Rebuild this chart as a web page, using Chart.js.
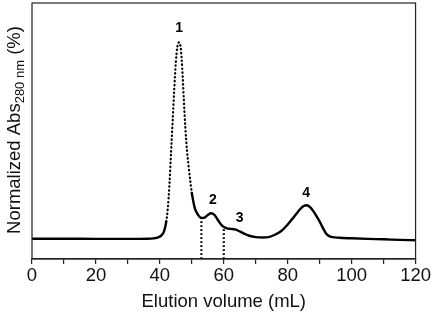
<!DOCTYPE html>
<html>
<head>
<meta charset="utf-8">
<script src="https://cdn.jsdelivr.net/npm/chart.js@4"></script>
<style>
  body { margin: 0; background: #fff; }
  canvas { display: block; }
</style>
</head>
<body>
<canvas id="chart" width="432" height="316"></canvas>
<script>
// elution profile
const volume = [0, 10, 20, 30, 36, 38, 39.5, 40.5, 41.3, 42, 42.5, 43, 43.5, 44, 44.5, 45, 45.5, 46,
  46.5, 47, 47.5, 48, 48.5, 49, 49.5, 50, 50.5, 51, 52, 53, 54, 55, 56, 57, 58, 59, 60, 61, 62,
  63.5, 65, 66.5, 68, 70, 72, 74, 76, 78, 80, 82, 84, 85, 86, 87, 88, 89, 90, 91, 92, 93, 94,
  96, 100, 105, 110, 115, 120]
const absorbance = [0.3, 0.3, 0.2, 0.2, 0.3, 0.5, 1.0, 2.0, 4.0, 9, 16, 28, 44, 60, 76, 90, 98, 100,
  97.5, 87, 71, 56, 45, 37, 30, 23.5, 19, 15.5, 12.3, 10.8, 11.0, 12.3, 13.2, 12.5, 10.2, 7.8, 6.3, 5.6, 5.3,
  5.0, 4.0, 2.8, 1.8, 1.1, 0.9, 1.1, 2.3, 4.2, 7.5, 11.5, 15.5, 16.9, 17.3, 16.3, 14.3, 11.8, 9.0, 5.8, 3.0, 1.6, 1.1,
  0.8, 0.5, 0.2, 0.0, -0.3, -0.5]

// dotted part of the trace (peak 1)
const dottedFrom = 42
const dottedTo = 50

// fraction cut lines
const cutVolumes = [53, 60]
const cutHeights = [10.8, 6.3]

// peak labels
const peakNames = ["1", "2", "3", "4"]
const peakX = [46, 56.6, 65, 85.8]
const peakY = [107, 19.8, 10.7, 23.4]

const yMin = -10
const yMax = 120

const FONT = "'Liberation Sans', Arial, sans-serif"

const traceData = volume.map((v, i) => ({ x: v, y: absorbance[i] }))

const cutSets = cutVolumes.map((v, i) => ({
    data: [{ x: v, y: yMin }, { x: v, y: cutHeights[i] }],
    borderColor: "#000",
    borderWidth: 2.2,
    borderDash: [1.8, 2.2],
    pointRadius: 0,
    tension: 0,
}))

const boxPlugin = {
    id: "box",
    afterDraw(chart) {
        const { ctx, chartArea: a } = chart
        ctx.save()
        ctx.strokeStyle = "#222"
        ctx.lineWidth = 1.2
        ctx.strokeRect(a.left, a.top, a.right - a.left, a.bottom - a.top)
        ctx.restore()
    }
}

const peakLabelPlugin = {
    id: "peakLabels",
    afterDatasetsDraw(chart) {
        const { ctx, scales: { x, y } } = chart
        ctx.save()
        ctx.fillStyle = "#000"
        ctx.font = "bold 14px " + FONT
        ctx.textAlign = "center"
        ctx.textBaseline = "middle"
        peakNames.forEach((name, i) => {
            ctx.fillText(name, x.getPixelForValue(peakX[i]), y.getPixelForValue(peakY[i]))
        })
        ctx.restore()
    }
}

// y title with subscript, Chart.js titles cannot do that
const yTitlePlugin = {
    id: "yTitle",
    afterDraw(chart) {
        const { ctx, chartArea: a } = chart
        const parts = [
            { t: "Normalized Abs", size: 18.5, dy: 0 },
            { t: "280 nm", size: 13, dy: 5 },
            { t: " (%)", size: 18.5, dy: 0 },
        ]
        ctx.save()
        let total = 0
        parts.forEach(p => {
            ctx.font = p.size + "px " + FONT
            p.w = ctx.measureText(p.t).width
            total += p.w
        })
        ctx.translate(15, (a.top + a.bottom) / 2 - 1)
        ctx.rotate(-Math.PI / 2)
        ctx.fillStyle = "#111"
        ctx.textBaseline = "middle"
        let cx = -total / 2
        parts.forEach(p => {
            ctx.font = p.size + "px " + FONT
            ctx.fillText(p.t, cx, p.dy)
            cx += p.w
        })
        ctx.restore()
    }
}

new Chart(document.getElementById("chart"), {
    type: "line",
    data: {
        datasets: [
            {
                data: traceData,
                borderColor: "#000",
                borderWidth: 2.4,
                borderCapStyle: "round",
                pointRadius: 0,
                cubicInterpolationMode: "monotone",
                segment: {
                    borderDash: ctx => (ctx.p0.parsed.x >= dottedFrom && ctx.p1.parsed.x <= dottedTo) ? [0.5, 3.4] : undefined,
                    borderWidth: ctx => (ctx.p0.parsed.x >= dottedFrom && ctx.p1.parsed.x <= dottedTo) ? 2.2 : undefined,
                },
            },
            ...cutSets,
        ],
    },
    options: {
        responsive: false,
        animation: false,
        layout: { padding: { left: 32, right: 16, top: 3 } },
        plugins: {
            legend: { display: false },
            tooltip: { enabled: false },
        },
        scales: {
            x: {
                type: "linear",
                min: 0,
                max: 120,
                afterFit: scale => { scale.height = 57 },
                ticks: {
                    stepSize: 10,
                    autoSkip: false,
                    maxRotation: 0,
                    padding: 1,
                    color: "#111",
                    font: { family: FONT, size: 18.5 },
                    callback: v => v % 20 === 0 ? v : "",
                },
                grid: {
                    drawOnChartArea: false,
                    drawTicks: true,
                    tickLength: 5,
                    color: "#222",
                    lineWidth: 1.2,
                },
                border: { display: true, color: "#222", width: 1.2 },
                title: {
                    display: true,
                    text: "Elution volume (mL)",
                    color: "#111",
                    font: { family: FONT, size: 18.5 },
                    padding: { top: 0, bottom: 3 },
                },
            },
            y: {
                display: false,
                min: yMin,
                max: yMax,
            },
        },
    },
    plugins: [boxPlugin, peakLabelPlugin, yTitlePlugin],
})
</script>
</body>
</html>
